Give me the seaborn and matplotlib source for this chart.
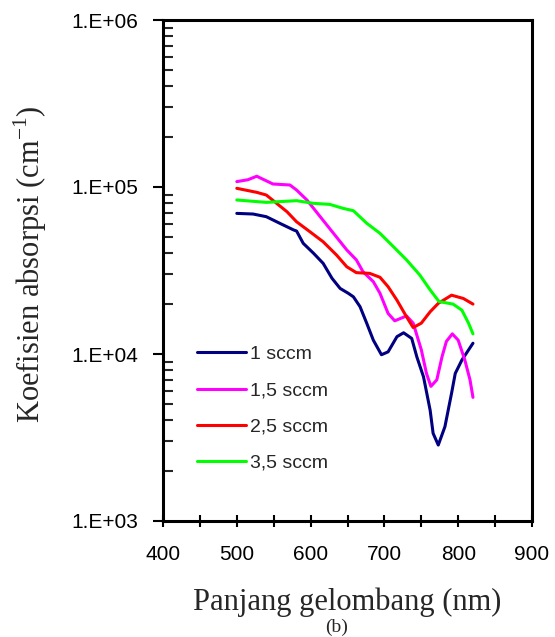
import numpy as np
import pandas as pd
import matplotlib
matplotlib.use("Agg")
import matplotlib.pyplot as plt
from matplotlib.ticker import FixedLocator, FuncFormatter, LogLocator, MultipleLocator, NullFormatter
import seaborn as sns

# Absorption coefficient spectra (wavelength in nm, alpha in cm^-1)
nm_1 = [500, 522, 540, 558, 577, 581, 590, 604, 617, 629, 640, 651, 658, 667, 676, 685,
        696, 705, 717, 726, 737, 744, 753, 762, 766, 773, 782, 791, 796, 805, 820]
a_1 = [69500, 68900, 66400, 60700, 55300, 54500, 46000, 40100, 34900, 28400, 24700, 23100,
       22000, 19200, 15300, 12100, 9900, 10300, 12700, 13400, 12400, 9600, 7300, 4600, 3350,
       2850, 3670, 5820, 7650, 9200, 11600]

nm_15 = [500, 515, 527, 549, 572, 581, 595, 613, 631, 649, 662, 671, 685, 694, 705, 714,
         730, 739, 750, 757, 763, 771, 778, 784, 792, 800, 809, 816, 820]
a_15 = [107700, 110500, 116000, 104200, 102800, 95900, 83600, 66400, 52800, 42000, 36600,
        31100, 27100, 23100, 17500, 15800, 16900, 15300, 10600, 7650, 6400, 7000, 9600,
        11900, 13200, 12100, 9200, 7000, 5500]

nm_25 = [500, 527, 540, 554, 568, 581, 599, 617, 635, 649, 662, 680, 694, 705, 717, 730,
         739, 750, 762, 773, 791, 807, 820]
a_25 = [98200, 92900, 89500, 79800, 71100, 61900, 54000, 47000, 39200, 33300, 30700, 30400,
        28800, 25300, 21000, 16700, 14400, 15300, 17900, 20100, 22500, 21500, 19900]

nm_35 = [500, 540, 581, 604, 626, 644, 658, 676, 694, 712, 730, 748, 762, 774, 793, 805,
         814, 820]
a_35 = [83600, 80900, 82800, 79800, 78700, 74500, 72100, 60700, 52800, 44000, 36600, 29700,
        24200, 20600, 19900, 18300, 15300, 13200]

series_labels = ["1 sccm", "1,5 sccm", "2,5 sccm", "3,5 sccm"]
series_colors = ["#000080", "#FF00FF", "#FF0000", "#00FF00"]

x_ticks = [400, 500, 600, 700, 800, 900]
y_ticks = [1e3, 1e4, 1e5, 1e6]
y_tick_labels = ["1.E+03", "1.E+04", "1.E+05", "1.E+06"]

frames = []
for lab, xs, ys in zip(series_labels, [nm_1, nm_15, nm_25, nm_35], [a_1, a_15, a_25, a_35]):
    frames.append(pd.DataFrame({"nm": xs, "alpha": ys, "sampel": lab}))
df = pd.concat(frames, ignore_index=True)

sns.set_theme(style="white")
plt.rcParams["font.family"] = ["Liberation Sans", "DejaVu Sans"]
plt.rcParams["mathtext.fontset"] = "custom"
plt.rcParams["mathtext.rm"] = "Liberation Serif"

fig = plt.figure(figsize=(5.55, 6.37), dpi=100)
ax = fig.add_axes([163 / 555, 1 - 521 / 637, 369 / 555, 501 / 637])

sns.lineplot(data=df, x="nm", y="alpha", hue="sampel", hue_order=series_labels,
             palette=dict(zip(series_labels, series_colors)), linewidth=2.2,
             sort=False, estimator=None, ax=ax)

ax.set_yscale("log")
ax.set_xlim(400, 900)
ax.set_ylim(1e3, 1e6)

ax.xaxis.set_major_locator(FixedLocator(x_ticks))
ax.xaxis.set_minor_locator(MultipleLocator(50))
ax.yaxis.set_major_locator(FixedLocator(y_ticks))
ax.yaxis.set_major_formatter(FuncFormatter(lambda v, p: y_tick_labels[y_ticks.index(v)] if v in y_ticks else ""))
ax.yaxis.set_minor_locator(LogLocator(base=10, subs=np.arange(2, 10)))
ax.yaxis.set_minor_formatter(NullFormatter())

ax.tick_params(axis="x", which="both", direction="inout", length=9, width=1.5,
               bottom=True, top=False, labelsize=15, pad=12.5, colors="black")
ax.tick_params(axis="y", which="major", direction="out", length=7, width=1.5,
               left=True, right=False, labelsize=15, pad=10.5, colors="black")
ax.tick_params(axis="y", which="minor", direction="in", length=7, width=1.5,
               left=True, right=False)

for sp in ax.spines.values():
    sp.set_visible(True)
    sp.set_color("black")
    sp.set_linewidth(2.2)

ax.set_xlabel("")
ax.set_ylabel("")

leg = ax.legend(loc="upper left", bbox_to_anchor=(0.045, 0.385), frameon=False,
                fontsize=14, handlelength=2.5, handletextpad=0.2, labelspacing=0.95)
for line in leg.get_lines():
    line.set_linewidth(2.2)

fig.text(347.5 / 555, 1 - 602 / 637, "Panjang gelombang (nm)", ha="center", va="center",
         fontsize=22, family=["Liberation Serif"])
fig.text(30 / 555, 1 - 264 / 637, r"Koefisien absorpsi (cm$^{\mathrm{-1}}$)", ha="center",
         va="center", rotation=90, fontsize=22, family=["Liberation Serif"])
fig.text(337 / 555, 1 - 627 / 637, "(b)", ha="center", va="center", fontsize=14,
         family=["Liberation Serif"])

fig.savefig("out.png", dpi=100)
